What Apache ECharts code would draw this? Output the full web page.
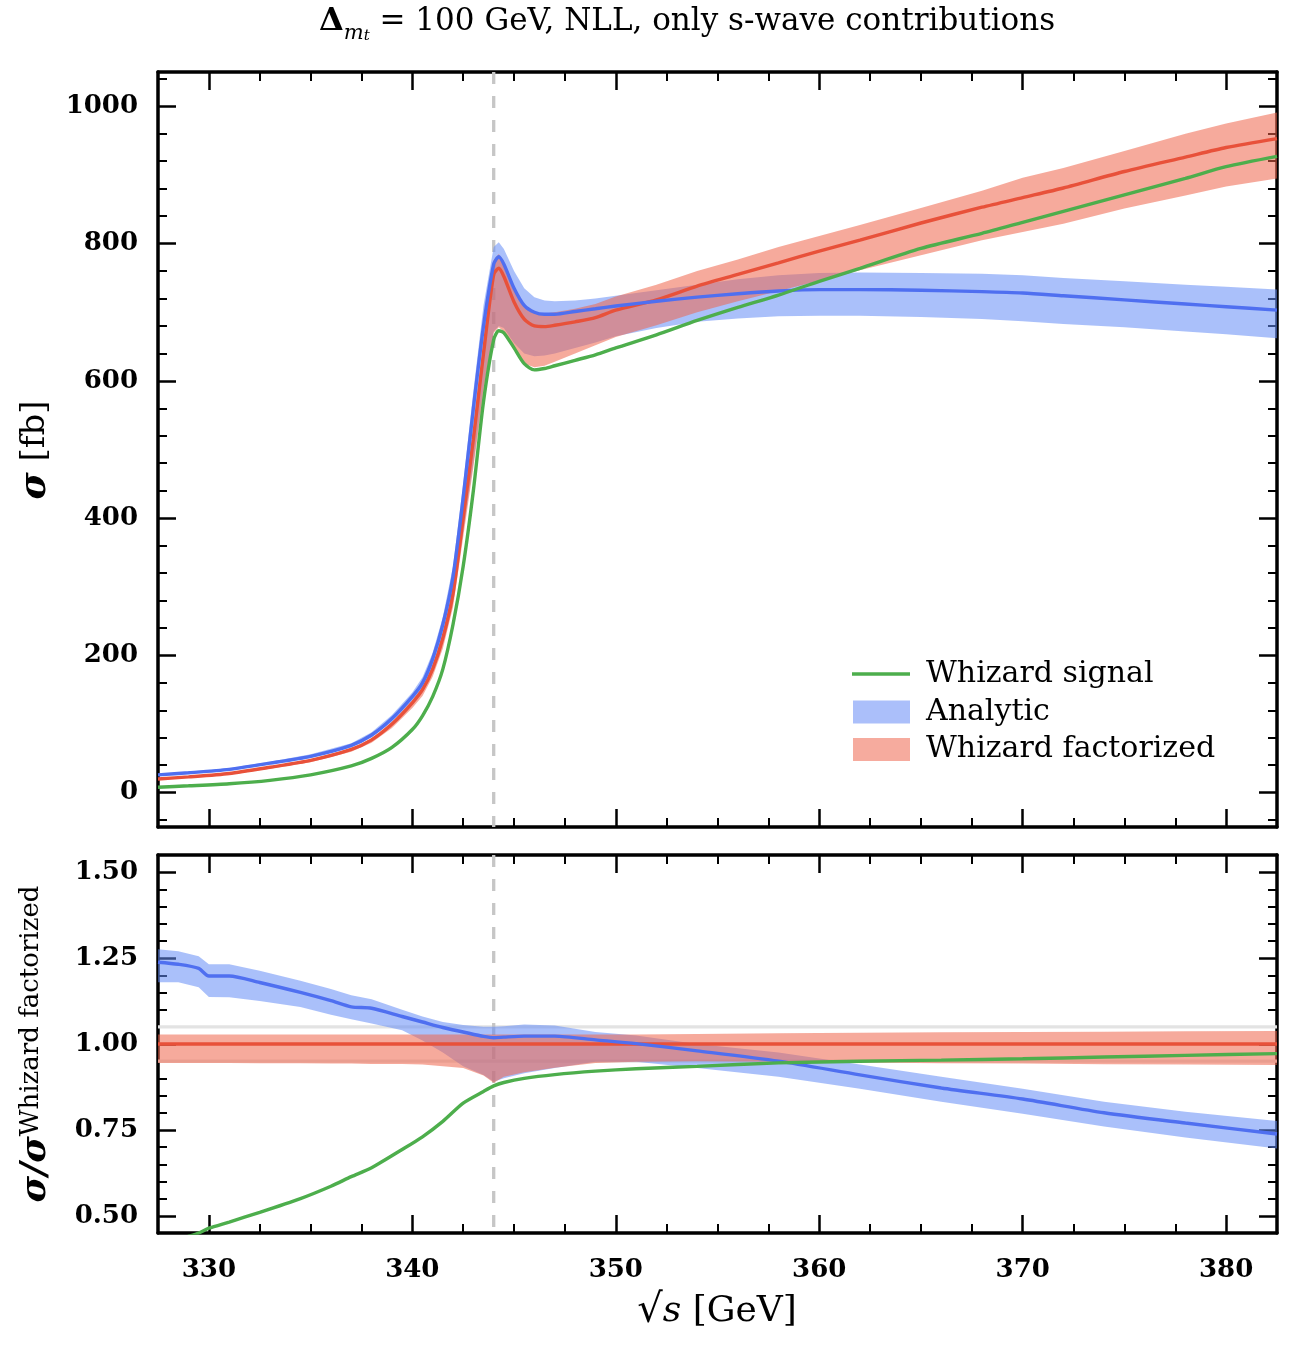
<!DOCTYPE html>
<html>
<head>
<meta charset="utf-8">
<script src="https://cdn.jsdelivr.net/npm/echarts@6/dist/echarts.min.js"></script>
<style>html,body{margin:0;padding:0;background:#fff}#c{width:1293px;height:1350px}</style>
</head>
<body>
<div id="c"></div>
<script>
// ---------------- data: upper panel (sigma in fb) ----------------
const xTop = [327.5, 329, 331, 333, 335, 337, 338, 339, 340, 340.5, 341, 341.5, 342, 342.5, 343, 343.5, 344, 344.25, 344.5, 345, 345.5, 346, 346.5, 347, 348, 349, 350, 352, 354, 356, 358, 360, 362, 365, 368, 370, 372, 375, 378, 380, 382.5];
const analytic = [26, 29, 34, 43, 53, 69, 84, 108, 140, 160, 195, 245, 315, 430, 560, 680, 770, 781, 770, 735, 710, 700, 697, 697, 701, 705, 709, 716, 722, 727, 731, 733, 733, 732, 730, 728, 724, 718, 712, 708, 703];
const analyticHigh = [27.5, 30.5, 36, 45, 56, 72, 88, 113, 146, 168, 204, 256, 330, 450, 585, 710, 795, 802, 792, 760, 735, 722, 717, 716, 717, 720, 724, 732, 740, 748, 754, 757, 758, 757, 756, 754, 750, 745, 740, 737, 733];
const analyticLow = [24.8, 27.6, 32.4, 41, 50.5, 66, 80.5, 103.5, 134, 153, 182, 222, 280, 380, 480, 590, 672, 680, 677, 655, 640, 636, 637, 640, 648, 656, 665, 677, 686, 691, 694, 695, 695, 693, 690, 687, 683, 678, 672, 668, 662];
const factorized = [20, 23, 28, 37, 47, 63, 77, 100, 131, 150, 180, 225, 290, 400, 515, 640, 755, 764, 752, 715, 690, 680, 679, 681, 686, 692, 703, 718, 738, 755, 772, 789, 805, 830, 853, 867, 881, 905, 926, 940, 953];
const factorizedHigh = [20.6, 23.7, 28.8, 38, 48.3, 64.8, 79.2, 102.8, 134.7, 154.2, 185, 231.3, 298, 411, 529, 658, 776, 785, 773, 735, 709, 699, 698, 700, 705, 712, 723, 740, 760, 777, 795, 811, 827, 852, 877, 896, 910, 935, 960, 975, 991];
const factorizedLow = [18.9, 21.7, 26.5, 35, 44.4, 59.5, 72.7, 94.2, 123.3, 141, 169, 210, 270, 372, 474, 581, 670, 678, 672, 645, 625, 620, 622, 628, 640, 652, 664, 681, 700, 716, 731, 746, 761, 783, 805, 817, 829, 851, 870, 883, 895];
const signal = [8, 10, 13, 18, 26, 39, 50, 66, 92, 112, 140, 180, 245, 330, 440, 570, 660, 673, 670, 648, 625, 616, 618, 622, 630, 638, 648, 667, 688, 707, 725, 745, 764, 793, 815, 831, 847, 871, 895, 912, 927];

// ---------------- data: lower panel (ratio to Whizard factorized) ----------------
const xRatio = [327.5, 328.5, 329.5, 330, 331, 332.5, 334.5, 336, 337, 338, 339.5, 340.5, 341.5, 342.5, 343.5, 344, 344.5, 345.5, 347, 349, 351, 354, 358, 362, 366, 370, 374, 378, 382.5];
const ratioAnalytic = [1.238, 1.232, 1.22, 1.198, 1.198, 1.179, 1.150, 1.126, 1.108, 1.104, 1.080, 1.064, 1.048, 1.035, 1.022, 1.018, 1.02, 1.023, 1.023, 1.012, 1.001, 0.98, 0.95, 0.91, 0.872, 0.84, 0.80, 0.77, 0.738];
const ratioAnalyticHigh = [1.276, 1.27, 1.255, 1.232, 1.232, 1.213, 1.184, 1.16, 1.142, 1.13, 1.10, 1.08, 1.064, 1.055, 1.05, 1.05, 1.052, 1.057, 1.054, 1.035, 1.025, 1.0, 0.975, 0.94, 0.905, 0.87, 0.832, 0.803, 0.776];
const ratioAnalyticLow = [1.18, 1.18, 1.165, 1.137, 1.136, 1.125, 1.108, 1.085, 1.072, 1.06, 1.04, 1.01, 0.975, 0.935, 0.91, 0.89, 0.9, 0.915, 0.93, 0.948, 0.948, 0.93, 0.905, 0.87, 0.832, 0.797, 0.76, 0.728, 0.696];
const ratioFactorized = [1, 1, 1, 1, 1, 1, 1, 1, 1, 1, 1, 1, 1, 1, 1, 1, 1, 1, 1, 1, 1, 1, 1, 1, 1, 1, 1, 1, 1];
const ratioFactorizedHigh = [1.028, 1.028, 1.028, 1.028, 1.028, 1.028, 1.028, 1.028, 1.028, 1.028, 1.028, 1.028, 1.028, 1.028, 1.028, 1.028, 1.028, 1.028, 1.028, 1.028, 1.028, 1.029, 1.031, 1.033, 1.034, 1.035, 1.036, 1.037, 1.038];
const ratioFactorizedLow = [0.945, 0.945, 0.945, 0.945, 0.945, 0.944, 0.944, 0.943, 0.943, 0.942, 0.942, 0.94, 0.935, 0.93, 0.908, 0.887, 0.905, 0.918, 0.931, 0.945, 0.948, 0.95, 0.948, 0.946, 0.944, 0.943, 0.941, 0.94, 0.939];
const ratioSignal = [0.40, 0.43, 0.45, 0.464, 0.482, 0.51, 0.55, 0.586, 0.614, 0.640, 0.693, 0.73, 0.775, 0.828, 0.862, 0.878, 0.888, 0.9, 0.911, 0.921, 0.928, 0.935, 0.945, 0.95, 0.953, 0.957, 0.962, 0.967, 0.972];

// reference values
const thresholdX = [344];
const ratioRefLevels = [0.95, 1.05];

// axis ranges and ticks
const xRange = [327.5, 382.5];
const yTopRange = [-50, 1050];
const yBotRange = [0.45, 1.55];
const xMajor = [330, 340, 350, 360, 370, 380];
const xMinor = [332.5, 335, 337.5, 342.5, 345, 347.5, 352.5, 355, 357.5, 362.5, 365, 367.5, 372.5, 375, 377.5];
const yTopMajor = [0, 200, 400, 600, 800, 1000];
const yTopMinor = [-40, 40, 80, 120, 160, 240, 280, 320, 360, 440, 480, 520, 560, 640, 680, 720, 760, 840, 880, 920, 960, 1040];
const yBotMajor = [0.5, 0.75, 1.0, 1.25, 1.5];
const yBotMinor = [0.55, 0.6, 0.65, 0.7, 0.8, 0.85, 0.9, 0.95, 1.05, 1.1, 1.15, 1.2, 1.3, 1.35, 1.4, 1.45];

// ---------------- styling ----------------
const FONT = "'DejaVu Serif', serif";
const GREEN = '#4dae4c', BLUE = '#4f6ff0', RED = '#e8513a';
const BLUE_BAND = 'rgba(100,140,245,0.55)';
const RED_BAND = 'rgba(238,100,75,0.55)';

function axisSet(kind, g, range, majors, minors, labelsOn, fmt) {
  const isX = kind === 'x';
  const positions = isX ? ['bottom', 'top'] : ['left', 'right'];
  const out = [];
  positions.forEach((p, pi) => {
    [true, false].forEach(isMajor => {
      out.push({
        gridIndex: g, type: 'value', min: range[0], max: range[1], position: p,
        axisLine: {show: isMajor, onZero: false, lineStyle: {color: '#000', width: 3.5}},
        axisTick: {show: true, inside: true, length: isMajor ? 18 : 9,
          customValues: isMajor ? majors : minors,
          lineStyle: {color: '#000', width: isMajor ? 2.5 : 2}},
        axisLabel: {show: labelsOn && isMajor && pi === 0, customValues: majors, formatter: fmt,
          margin: isX ? 24 : 20, color: '#000', fontFamily: FONT, fontWeight: 'bold', fontSize: 26},
        splitLine: {show: false}, minorTick: {show: false}, minorSplitLine: {show: false},
        axisPointer: {show: false}, silent: true
      });
    });
  });
  return out;
}

function lineSeries(name, xs, ys, xi, yi, color, z) {
  return {
    type: 'line', name, xAxisIndex: xi, yAxisIndex: yi, z, silent: true,
    data: xs.map((x, i) => [x, ys[i]]),
    symbol: 'none', smooth: 0.25, clip: true, color,
    lineStyle: {color, width: 3.4}
  };
}

function bandSeries(name, xs, lo, hi, xi, yi, color, z) {
  return {
    type: 'custom', name, xAxisIndex: xi, yAxisIndex: yi, z, silent: true,
    itemStyle: {color},
    data: xs.map((x, i) => [x, lo[i], hi[i]]),
    encode: {x: 0, y: [1, 2]},
    renderItem: (params, api) => {
      if (params.dataIndex !== 0) return null;
      const n = params.dataInsideLength;
      const pts = [];
      for (let i = 0; i < n; i++) pts.push(api.coord([api.value(0, i), api.value(2, i)]));
      for (let i = n - 1; i >= 0; i--) pts.push(api.coord([api.value(0, i), api.value(1, i)]));
      return {type: 'polygon', shape: {points: pts}, style: {fill: color}};
    }
  };
}

function vLineSeries(name, xs, xi, yi, z) {
  return {
    type: 'custom', name, xAxisIndex: xi, yAxisIndex: yi, z, silent: true,
    data: xs.map(x => [x]),
    encode: {x: 0},
    renderItem: (params, api) => {
      const cs = params.coordSys;
      const px = api.coord([api.value(0), 0])[0];
      return {type: 'line', shape: {x1: px, y1: cs.y, x2: px, y2: cs.y + cs.height},
        style: {stroke: '#c6c6c6', lineWidth: 3.3, lineDash: [12, 12]}};
    }
  };
}

function hLineSeries(name, ys, xi, yi, z) {
  return {
    type: 'custom', name, xAxisIndex: xi, yAxisIndex: yi, z, silent: true,
    data: ys.map(y => [xRange[0], y]),
    encode: {x: 0, y: 1},
    renderItem: (params, api) => {
      const cs = params.coordSys;
      const py = api.coord([api.value(0), api.value(1)])[1];
      return {type: 'line', shape: {x1: cs.x, y1: py, x2: cs.x + cs.width, y2: py},
        style: {stroke: '#e3e3e3', lineWidth: 3.3}};
    }
  };
}

const chart = echarts.init(document.getElementById('c'), null, {renderer: 'canvas'});

const option = {
  animation: false,
  backgroundColor: '#ffffff',
  grid: [
    {left: 158, right: 16, top: 72, height: 755},
    {left: 158, right: 16, top: 855, height: 378}
  ],
  xAxis: [
    ...axisSet('x', 0, xRange, xMajor, xMinor, false, v => String(v)),
    ...axisSet('x', 1, xRange, xMajor, xMinor, true, v => String(v))
  ],
  yAxis: [
    ...axisSet('y', 0, yTopRange, yTopMajor, yTopMinor, true, v => String(v)),
    ...axisSet('y', 1, yBotRange, yBotMajor, yBotMinor, true, v => v.toFixed(2))
  ],
  legend: [
    {
      selectedMode: false, left: 847, top: 654, itemWidth: 58, itemHeight: 3.5, icon: 'rect',
      data: [{name: 'Whizard signal', itemStyle: {color: GREEN}}],
      textStyle: {fontFamily: FONT, fontSize: 30, color: '#000', lineHeight: 30, padding: [0, 0, 0, 11]}
    },
    {
      selectedMode: false, left: 848, top: 692, orient: 'vertical', itemWidth: 57, itemHeight: 23, itemGap: 7.5, icon: 'rect',
      data: [
        {name: 'Analytic', itemStyle: {color: '#abbffa'}},
        {name: 'Whizard factorized', itemStyle: {color: '#f6ab9e'}}
      ],
      textStyle: {fontFamily: FONT, fontSize: 30, color: '#000', lineHeight: 30, padding: [0, 0, 0, 11]}
    }
  ],
  series: [
    // upper panel
    vLineSeries('threshold', thresholdX, 0, 0, 1),
    bandSeries('Analytic', xTop, analyticLow, analyticHigh, 0, 0, BLUE_BAND, 2),
    bandSeries('Whizard factorized', xTop, factorizedLow, factorizedHigh, 0, 0, RED_BAND, 2),
    lineSeries('Whizard factorized line', xTop, factorized, 0, 0, RED, 3),
    lineSeries('Analytic line', xTop, analytic, 0, 0, BLUE, 3),
    lineSeries('Whizard signal', xTop, signal, 0, 0, GREEN, 3),
    // lower panel
    hLineSeries('ratio reference', ratioRefLevels, 4, 4, 1),
    vLineSeries('threshold ratio', thresholdX, 4, 4, 1),
    bandSeries('Analytic ratio band', xRatio, ratioAnalyticLow, ratioAnalyticHigh, 4, 4, BLUE_BAND, 2),
    bandSeries('Whizard factorized ratio band', xRatio, ratioFactorizedLow, ratioFactorizedHigh, 4, 4, RED_BAND, 2),
    lineSeries('Whizard factorized ratio', xRatio, ratioFactorized, 4, 4, RED, 3),
    lineSeries('Analytic ratio', xRatio, ratioAnalytic, 4, 4, BLUE, 3),
    lineSeries('Whizard signal ratio', xRatio, ratioSignal, 4, 4, GREEN, 3)
  ],
  graphic: [
    {
      type: 'text', x: 687, y: 22, silent: true,
      style: {
        text: '{d|Δ}{m|m}{t|t}{n| = 100 GeV, NLL, only s-wave contributions}',
        align: 'center', verticalAlign: 'middle',
        rich: {
          d: {fontFamily: FONT, fontSize: 32, fontWeight: 'bold', lineHeight: 44, verticalAlign: 'middle', fill: '#000'},
          m: {fontFamily: FONT, fontSize: 21, fontStyle: 'italic', lineHeight: 22, verticalAlign: 'bottom', fill: '#000'},
          t: {fontFamily: FONT, fontSize: 15, fontStyle: 'italic', lineHeight: 15, verticalAlign: 'bottom', fill: '#000'},
          n: {fontFamily: FONT, fontSize: 31, lineHeight: 44, verticalAlign: 'middle', fill: '#000'}
        }
      }
    },
    {
      type: 'text', x: 35, y: 450, rotation: Math.PI / 2, silent: true,
      style: {
        text: '{s|σ}{n| [fb]}', align: 'center', verticalAlign: 'middle',
        rich: {
          s: {fontFamily: FONT, fontSize: 37, fontWeight: 'bold', fontStyle: 'italic', fill: '#000'},
          n: {fontFamily: FONT, fontSize: 34, fill: '#000'}
        }
      }
    },
    {
      type: 'text', x: 36, y: 1044, rotation: Math.PI / 2, silent: true,
      style: {
        text: '{s|σ/σ}{p|Whizard factorized}', align: 'center', verticalAlign: 'middle',
        rich: {
          s: {fontFamily: FONT, fontSize: 36, fontWeight: 'bold', fontStyle: 'italic', lineHeight: 36, verticalAlign: 'bottom', fill: '#000'},
          p: {fontFamily: FONT, fontSize: 26, lineHeight: 26, verticalAlign: 'top', fill: '#000'},
        }
      }
    },
    {
      type: 'text', x: 717, y: 1312, silent: true,
      style: {
        text: '{r|√}{s|s}{n| [GeV]}', align: 'center', verticalAlign: 'middle',
        rich: {
          r: {fontFamily: FONT, fontSize: 40, fill: '#000'},
          s: {fontFamily: FONT, fontSize: 36, fontStyle: 'italic', fill: '#000'},
          n: {fontFamily: FONT, fontSize: 36, fill: '#000'}
        }
      }
    }
  ]
};
chart.setOption(option);
</script>
</body>
</html>
